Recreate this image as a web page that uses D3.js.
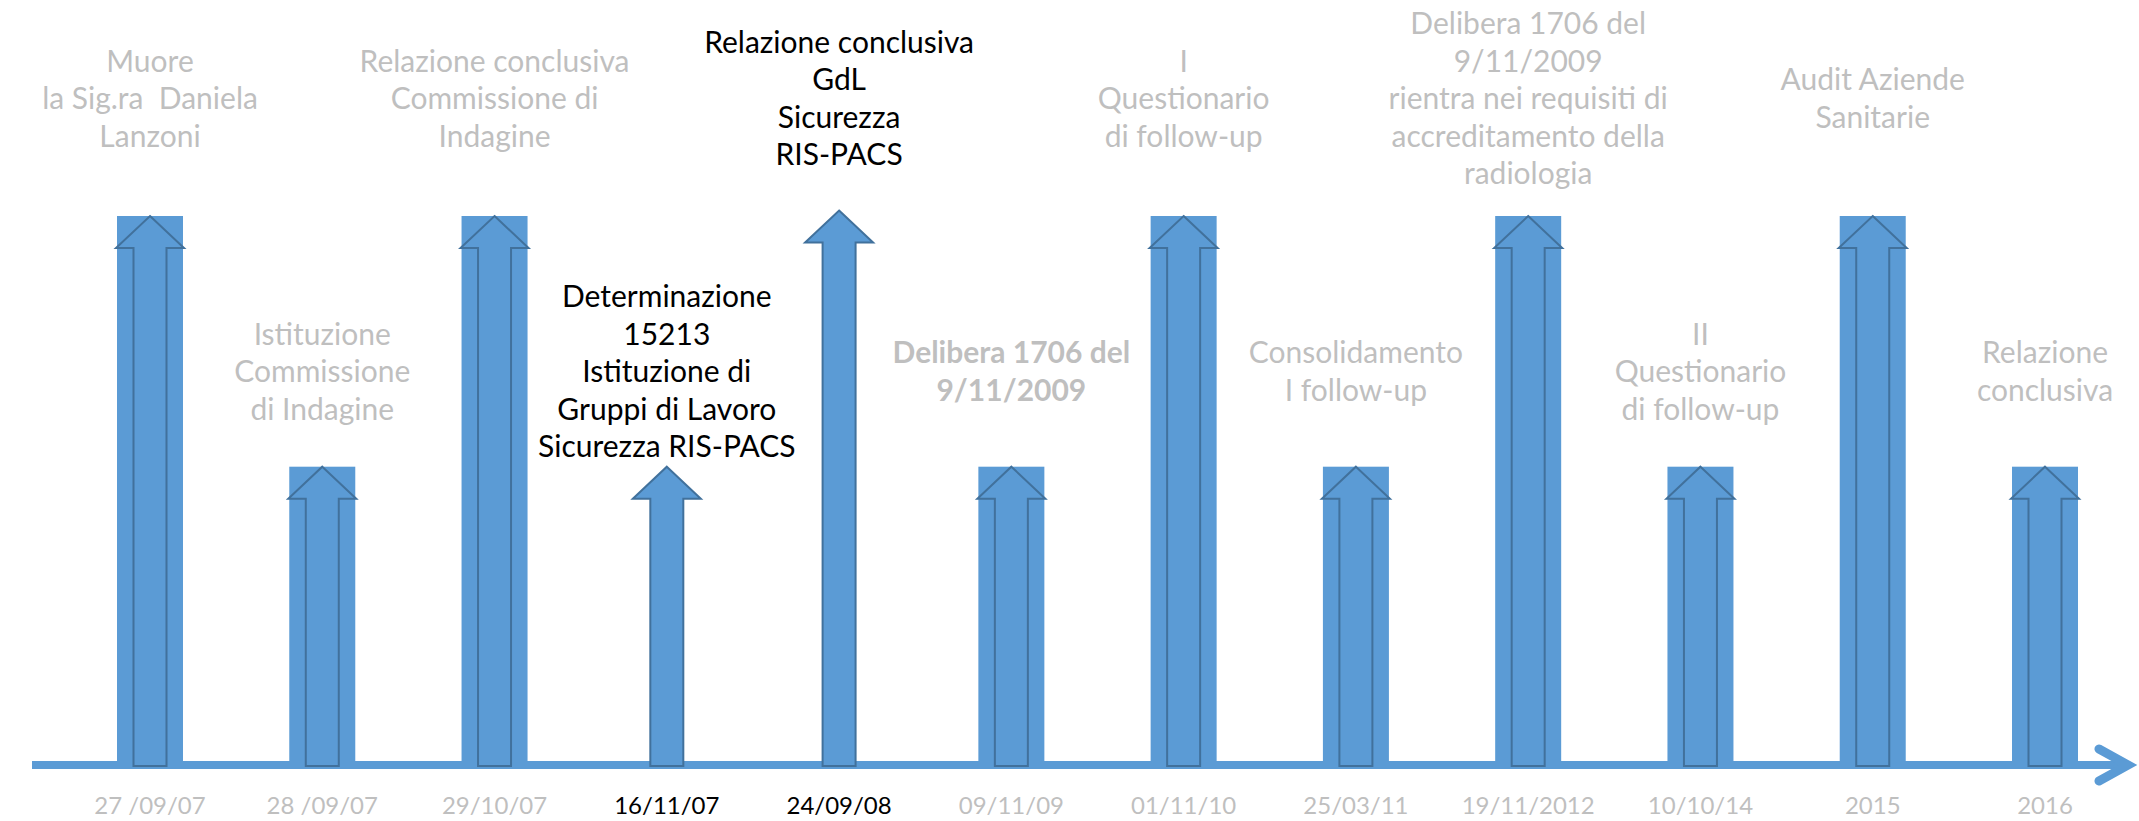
<!DOCTYPE html>
<html>
<head>
<meta charset="utf-8">
<script src="https://cdn.jsdelivr.net/npm/d3@7"></script>
<style>
  html, body { margin: 0; padding: 0; background: #ffffff; }
  svg { display: block; }
  text { font-family: Lato, "Noto Sans", sans-serif; white-space: pre; }
</style>
</head>
<body>
<svg id="timeline" width="2139" height="821"></svg>
<script>
// Timeline milestones, left to right
const dates = ["27 /09/07", "28 /09/07", "29/10/07", "16/11/07", "24/09/08", "09/11/09",
               "01/11/10", "25/03/11", "19/11/2012", "10/10/14", "2015", "2016"];

// Relative height of each milestone arrow (tall = 100)
const levels = [100, 54, 100, 54, 101, 54, 100, 54, 100, 54, 100, 54];

// Caption lines above each arrow
const descriptions = [
  ["Muore", "la Sig.ra  Daniela", "Lanzoni"],
  ["Istituzione", "Commissione", "di Indagine"],
  ["Relazione conclusiva", "Commissione di", "Indagine"],
  ["Determinazione", "15213", "Istituzione di", "Gruppi di Lavoro", "Sicurezza RIS-PACS"],
  ["Relazione conclusiva", "GdL", "Sicurezza", "RIS-PACS"],
  ["Delibera 1706 del", "9/11/2009"],
  ["I", "Questionario", "di follow-up"],
  ["Consolidamento", "I follow-up"],
  ["Delibera 1706 del", "9/11/2009", "rientra nei requisiti di", "accreditamento della", "radiologia"],
  ["II", "Questionario", "di follow-up"],
  ["Audit Aziende", "Sanitarie"],
  ["Relazione", "conclusiva"]
];

// Milestones drawn with a backing column (false = plain arrow, highlighted text)
const framed = [true, true, true, false, false, true, true, true, true, true, true, true];

// Captions set in bold
const strong = [false, false, false, false, false, true, false, false, false, false, false, false];

const fill = "#5b9bd5", edge = "#41719c", grey = "#bfbfbf", ink = "#000000";
const svg = d3.select("#timeline");

const axisY = 765, baseY = 761;
const x = d3.scalePoint().domain(dates).range([150, 2045]);
const y = d3.scaleLinear().domain([0, 100]).range([baseY, 216]);

const colW = 66, headHalf = 34, shaftHalf = 16.5, headLen = 32, shaftBottom = 766;
const lineH = 37.5;

const events = dates.map((d, i) => ({
  date: d, level: levels[i], lines: descriptions[i], framed: framed[i], strong: strong[i]
}));

// Main axis with arrowhead
svg.append("line")
  .attr("x1", 32).attr("x2", 2126).attr("y1", axisY).attr("y2", axisY)
  .attr("stroke", fill).attr("stroke-width", 8);
svg.append("polyline")
  .attr("points", [[2099, 749], [2128, axisY], [2099, 781]].map(p => p.join(",")).join(" "))
  .attr("fill", "none").attr("stroke", fill).attr("stroke-width", 9)
  .attr("stroke-linecap", "round").attr("stroke-linejoin", "miter");

// Backing columns
svg.append("g").selectAll("rect")
  .data(events.filter(e => e.framed))
  .join("rect")
  .attr("x", e => x(e.date) - colW / 2)
  .attr("width", colW)
  .attr("y", e => y(e.level))
  .attr("height", e => baseY - y(e.level))
  .attr("fill", fill);

// Block arrows
function arrowPath(e) {
  const cx = x(e.date), tip = y(e.level), hb = tip + headLen;
  return d3.line()([
    [cx, tip], [cx + headHalf, hb], [cx + shaftHalf, hb], [cx + shaftHalf, shaftBottom],
    [cx - shaftHalf, shaftBottom], [cx - shaftHalf, hb], [cx - headHalf, hb]
  ]) + "Z";
}
svg.append("g").selectAll("path")
  .data(events)
  .join("path")
  .attr("d", arrowPath)
  .attr("fill", fill)
  .attr("stroke", edge)
  .attr("stroke-width", 2);

// Captions
svg.append("g").selectAll("text")
  .data(events)
  .join("text")
  .attr("text-anchor", "middle")
  .attr("font-size", 30)
  .attr("font-weight", e => e.strong ? 700 : 400)
  .attr("fill", e => e.framed ? grey : ink)
  .each(function (e) {
    const mid = e.level > 80 ? 109 : 382;
    const first = mid - (e.lines.length - 1) / 2 * lineH;
    d3.select(this).selectAll("tspan")
      .data(e.lines)
      .join("tspan")
      .attr("x", x(e.date))
      .attr("y", (l, j) => first + j * lineH)
      .text(l => l);
  });

// Date labels under the axis
svg.append("g").selectAll("text")
  .data(events)
  .join("text")
  .attr("x", e => x(e.date))
  .attr("y", 814)
  .attr("text-anchor", "middle")
  .attr("font-size", 24)
  .attr("fill", e => e.framed ? grey : ink)
  .text(e => e.date);
</script>
</body>
</html>
